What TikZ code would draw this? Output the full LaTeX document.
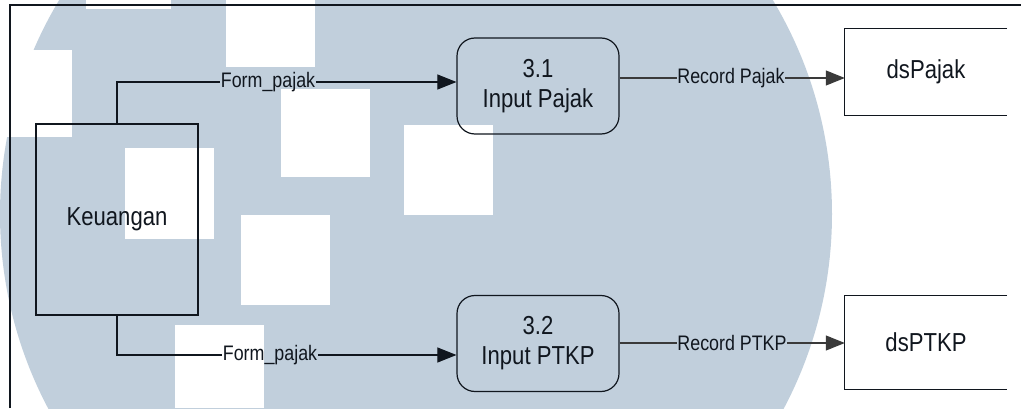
\documentclass[tikz,border=0pt]{standalone}
\usepackage{fontspec}
\setmainfont{Liberation Sans}[FakeStretch=0.85]
\usetikzlibrary{arrows.meta}
\definecolor{wmblue}{RGB}{193,207,220}
\definecolor{inkdark}{RGB}{16,22,30}
\definecolor{flowgray}{RGB}{58,58,58}

\begin{document}
\begin{tikzpicture}[x=1pt,y=1pt,
    txt/.style={font=\fontsize{26}{30}\selectfont,text=inkdark,align=center},
    entity/.style={txt,draw=inkdark,line width=1.1pt,minimum width=162pt,minimum height=191pt,inner sep=0pt},
    proc/.style={txt,draw=inkdark,line width=1.2pt,rounded corners=18pt,minimum width=162pt,minimum height=96pt,inner sep=0pt},
    store/.style={txt,minimum width=162pt,inner sep=0pt},
    flowlbl/.style={font=\fontsize{21}{24}\selectfont,text=inkdark,inner sep=0.5pt},
    flow/.style={inkdark,line width=1.1pt},
    recflow/.style={flowgray,line width=1.1pt},
    tip/.style={-{Triangle[length=19pt,width=15pt]}}]
        \useasboundingbox (0,0) rectangle (1021,408);
        % background disc with the white squares on it
        \begin{scope}
            \clip (0,0) rectangle (1021,408);
            \fill[wmblue] (416,194) circle[radius=416];
            \fill[white] (86,399) rectangle (171,408);
            \fill[white] (226,341) rectangle (315,408);
            \fill[white] (0,271) rectangle (72,358);
            \fill[white] (281,231) rectangle (370,319);
            \fill[white] (404,193) rectangle (493,283);
            \fill[white] (125,169) rectangle (214,260);
            \fill[white] (241,103) rectangle (330,193);
            \fill[white] (175,0) rectangle (264,83);
        \end{scope}
        % frame
        \draw[inkdark,line width=2pt] (10,0) -- (10,403) -- (1021,403);
        % entity, processes, stores
        \node[entity] (keu) at (117,188.5) {Keuangan};
        \node[proc] (p31) at (538,322) {3.1\\Input Pajak};
        \node[proc] (p32) at (538,64.5) {3.2\\Input PTKP};
        \node[store,minimum height=86pt] (ds1) at (926,336) {dsPajak};
        \node[store,minimum height=93pt] (ds2) at (926,65.5) {dsPTKP};
        \draw[flow] (ds1.north east) -- (ds1.north west) -- (ds1.south west) -- (ds1.south east);
        \draw[flow] (ds2.north east) -- (ds2.north west) -- (ds2.south west) -- (ds2.south east);
        % flows
        \node[flowlbl] (f1) at (268,326) {Form\_pajak};
        \node[flowlbl] (f2) at (270,53) {Form\_pajak};
        \node[flowlbl] (r1) at (731,330) {Record Pajak};
        \node[flowlbl] (r2) at (732,65) {Record PTKP};
        \draw[flow] (keu.north) |- (f1.west);
        \draw[flow,tip] (f1.east) -- (p31.west |- f1);
        \draw[flow] (keu.south) |- (f2.west);
        \draw[flow,tip] (f2.east) -- (p32.west |- f2);
        \draw[recflow] (p31.east |- r1) -- (r1.west);
        \draw[recflow,tip] (r1.east) -- (ds1.west |- r1);
        \draw[recflow] (p32.east |- r2) -- (r2.west);
        \draw[recflow,tip] (r2.east) -- (ds2.west |- r2);
    \end{tikzpicture}
\end{document}
